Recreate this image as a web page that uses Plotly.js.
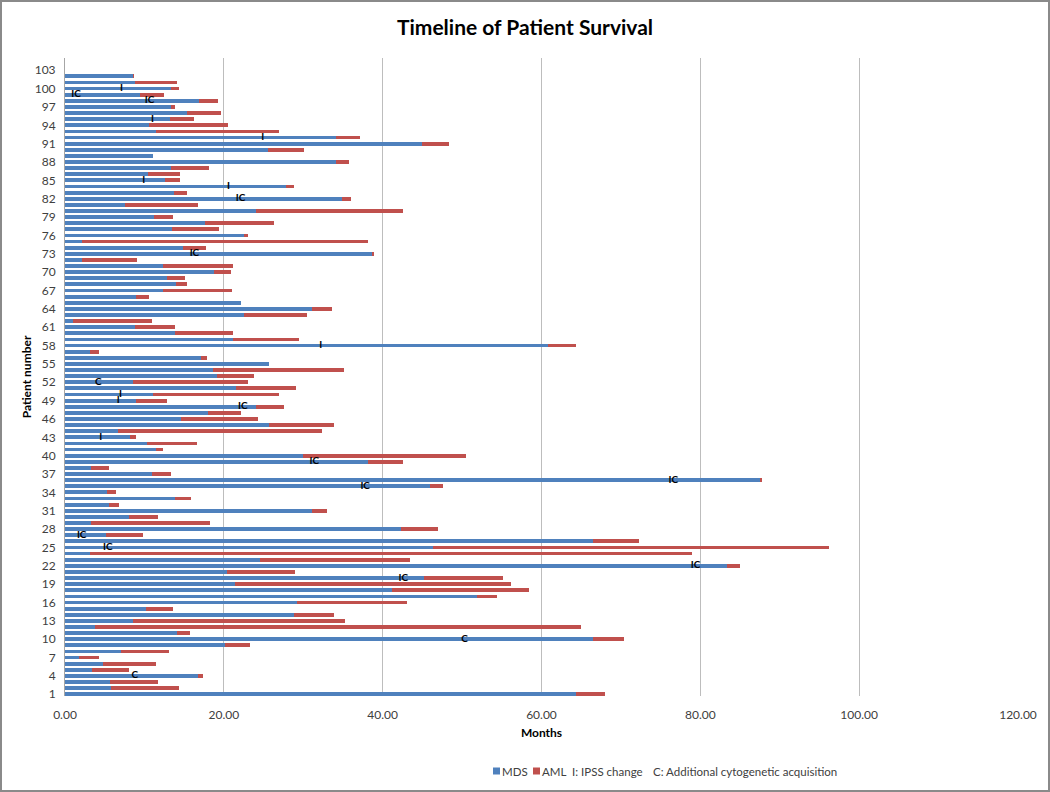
<!DOCTYPE html>
<html>
<head>
<meta charset="utf-8">
<script src="https://cdn.plot.ly/plotly-3.0.1.min.js"></script>
<style>
  html, body { margin: 0; padding: 0; background: #fff; }
  #wrap { position: relative; width: 1050px; height: 792px; }
  #chart { width: 1050px; height: 792px; }
  #frame { position: absolute; left: 0; top: 0; width: 1050px; height: 792px; box-sizing: border-box; border: 2px solid #8a8a8a; pointer-events: none; }
</style>
</head>
<body>
<div id="wrap"><div id="chart"></div><div id="frame"></div></div>
<script>
// Patient numbers 1..103
const patients = [];
for (let i = 1; i <= 103; i++) patients.push(i);

// Months spent in MDS phase (patients 1..103)
const mdsMonths = [
  64.4, 5.85, 5.7, 16.7, 3.45, 4.75, 1.7, 7.1, 20.1, 66.5,
  14.1, 3.75, 8.5, 28.8, 10.2, 29.2, 51.9, 41.2, 21.4, 45.2,
  20.4, 83.3, 24.5, 3.2, 46.4, 66.5, 5.1, 42.3, 3.3, 8.1,
  31.1, 5.5, 13.8, 5.35, 45.9, 87.5, 11.0, 3.3, 38.1, 30.0,
  11.4, 10.3, 8.2, 6.7, 25.7, 14.65, 18.0, 24.0, 9.0, 11.1,
  21.5, 8.55, 19.1, 18.6, 25.7, 17.1, 3.1, 60.8, 21.1, 13.85,
  8.8, 1.05, 22.5, 31.1, 22.2, 9.0, 12.3, 14.0, 12.9, 18.7,
  12.3, 2.1, 38.7, 14.9, 2.2, 22.6, 13.5, 17.6, 11.2, 24.1,
  7.5, 34.9, 13.7, 27.8, 12.6, 10.4, 13.4, 34.1, 11.1, 25.5,
  45.0, 34.1, 11.5, 10.6, 13.2, 15.4, 13.3, 16.9, 9.4, 13.4,
  8.76, 8.5, 0
];

// Months spent in AML phase (patients 1..103)
const amlMonths = [
  3.6, 8.45, 6.05, 0.7, 4.55, 6.75, 2.6, 6.0, 3.2, 3.9,
  1.7, 61.25, 26.8, 5.1, 3.4, 13.9, 2.5, 17.2, 34.7, 9.9,
  8.5, 1.7, 19.0, 75.7, 49.8, 5.8, 4.75, 4.7, 14.9, 3.65,
  1.9, 1.3, 2.1, 1.05, 1.7, 0.3, 2.3, 2.3, 4.5, 20.5,
  1.0, 6.3, 0.7, 25.6, 8.2, 9.6, 4.2, 3.6, 3.9, 15.8,
  7.6, 14.45, 4.7, 16.5, 0, 0.8, 1.2, 3.5, 8.4, 7.35,
  5.0, 9.9, 8.0, 2.5, 0, 1.6, 8.75, 1.4, 2.2, 2.2,
  8.9, 7.0, 0.2, 2.8, 36.0, 0.5, 5.9, 8.7, 2.4, 18.5,
  9.3, 1.1, 1.7, 1.0, 1.9, 4.1, 4.7, 1.6, 0, 4.6,
  3.3, 3.1, 15.5, 9.9, 3.1, 4.2, 0.55, 2.4, 3.1, 0.9,
  5.3, 0.2, 0
];

// Event markers: patient, month, label
const markerPatient = [100, 99, 98, 95, 92, 85, 84, 82, 73, 58, 52, 50, 49, 48, 43, 39, 36, 35, 27, 25, 22, 20, 10, 4];
const markerMonth   = [7.1, 1.4, 10.65, 11.0, 24.9, 9.9, 20.6, 22.1, 16.3, 32.2, 4.2, 7.0, 6.7, 22.4, 4.5, 31.4, 76.6, 37.8, 2.1, 5.4, 79.4, 42.6, 50.3, 8.8];
const markerLabel   = ['I', 'IC', 'IC', 'I', 'I', 'I', 'I', 'IC', 'IC', 'I', 'C', 'I', 'I', 'IC', 'I', 'IC', 'IC', 'IC', 'IC', 'IC', 'IC', 'IC', 'C', 'C'];

const xTickVals = [0, 20, 40, 60, 80, 100, 120];
const yTickVals = [];
for (let v = 1; v <= 103; v += 3) yTickVals.push(v);

const seriesNames = ['MDS', 'AML'];
const seriesColors = ['#4f81bd', '#c0504d'];
const titleText = 'Timeline of Patient Survival';
const xTitle = 'Months';
const yTitle = 'Patient number';
const legendNote = ['I: IPSS change', 'C: Additional cytogenetic acquisition'];

const FONT = 'Lato, "Open Sans", sans-serif';

// plot-area geometry (pixels) used to place the legend row below the axis
const PL = 65, PR = 1018, PT = 58, PB = 696;
const px2x = px => (px - PL) / (PR - PL);
const px2y = py => (PB - py) / (PB - PT);
const legendY = 771;
const swatchLeft = [493, 533];     // legend swatch left edges
const labelLeft = [501, 541];      // legend label left edges
const noteLeft = [571, 652];       // legend note left edges

const traces = [
  {
    type: 'bar', orientation: 'h', name: seriesNames[0],
    y: patients, x: mdsMonths,
    marker: { color: seriesColors[0], line: { width: 0 } },
    width: 0.62
  },
  {
    type: 'bar', orientation: 'h', name: seriesNames[1],
    y: patients, x: amlMonths,
    marker: { color: seriesColors[1], line: { width: 0 } },
    width: 0.62
  },
  {
    type: 'scatter', mode: 'text', showlegend: false,
    x: markerMonth, y: markerPatient, text: markerLabel,
    textposition: 'middle center',
    textfont: { family: FONT, size: 10, color: '#000', weight: 'bold' },
    hoverinfo: 'skip', cliponaxis: false
  }
];

const legendShapes = seriesColors.map((c, i) => ({
  type: 'rect', xref: 'paper', yref: 'paper',
  x0: px2x(swatchLeft[i]), x1: px2x(swatchLeft[i] + 7),
  y0: px2y(legendY + 3.5), y1: px2y(legendY - 3.5),
  fillcolor: c, line: { width: 0 }
}));

const legendTexts = seriesNames.map((n, i) => ({
  text: n, xref: 'paper', yref: 'paper', x: px2x(labelLeft[i]), xanchor: 'left',
  y: px2y(legendY), yanchor: 'middle', showarrow: false, borderpad: 0,
  font: { family: FONT, size: 11.5, color: '#404040' }
})).concat(legendNote.map((n, i) => ({
  text: n, xref: 'paper', yref: 'paper', x: px2x(noteLeft[i]), xanchor: 'left',
  y: px2y(legendY), yanchor: 'middle', showarrow: false, borderpad: 0,
  font: { family: FONT, size: 11.5, color: '#404040' }
})));

const layout = {
  width: 1050, height: 792,
  margin: { l: PL, r: 1050 - PR, t: PT, b: 792 - PB, autoexpand: false },
  paper_bgcolor: '#ffffff', plot_bgcolor: '#ffffff',
  barmode: 'stack', bargap: 0,
  font: { family: FONT, size: 12, color: '#404040' },
  title: {
    text: '<b>' + titleText + '</b>',
    font: { family: FONT, size: 21, color: '#000' },
    x: 0.5, xanchor: 'center', xref: 'container',
    y: 1 - 28 / 792, yanchor: 'middle', yref: 'container'
  },
  xaxis: {
    range: [0, 120], tickmode: 'array', tickvals: xTickVals,
    tickformat: '.2f', showgrid: true, gridcolor: '#bdbdbd', gridwidth: 1,
    zeroline: false, showline: false, ticks: '', ticklabelstandoff: 10,
    tickfont: { family: FONT, size: 12, color: '#404040' },
    title: { text: '<b>' + xTitle + '</b>', font: { family: FONT, size: 12, color: '#000' }, standoff: 7 }
  },
  yaxis: {
    range: [0.72, 105.0], tickmode: 'array', tickvals: yTickVals,
    showgrid: false, zeroline: false, showline: true, linecolor: '#a6a6a6', linewidth: 1,
    ticks: '', ticklabelstandoff: 6,
    tickfont: { family: FONT, size: 12, color: '#404040' },
    title: { text: '<b>' + yTitle + '</b>', font: { family: FONT, size: 12, color: '#000' }, standoff: 0 }
  },
  showlegend: false,
  shapes: legendShapes,
  annotations: legendTexts
};

Plotly.newPlot('chart', traces, layout, { displayModeBar: false, staticPlot: true });
</script>
</body>
</html>
